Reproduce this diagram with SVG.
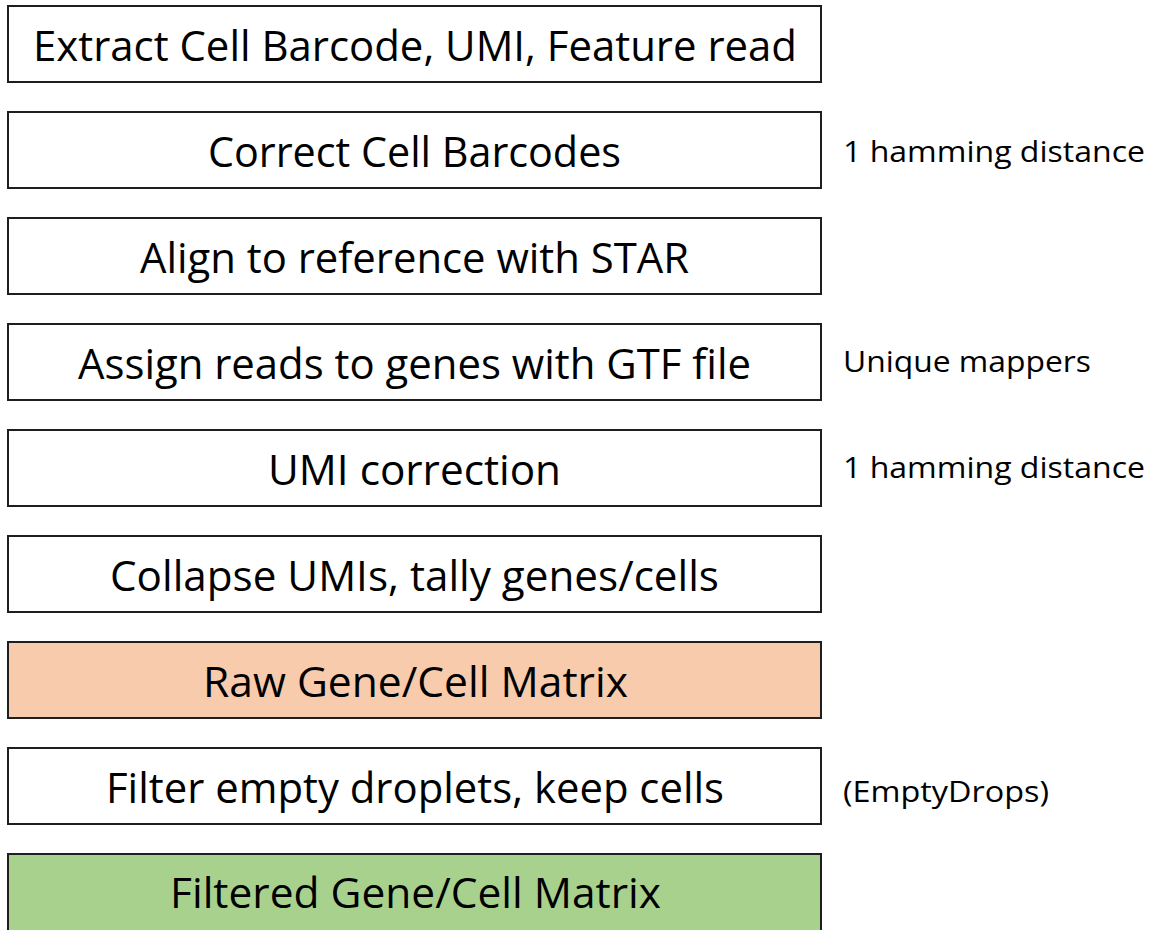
<svg xmlns="http://www.w3.org/2000/svg" width="1150" height="930" viewBox="0 0 1150 930">
  <style>
    .box { fill: #ffffff; stroke: #1f1f1f; stroke-width: 2; }
    .raw { fill: #f8cbad; }
    .filtered { fill: #a9d18e; }
    .step { font-family: "Open Sans", "Noto Sans", sans-serif; font-size: 42px; fill: #000000; }
    .note { font-family: "Open Sans", "Noto Sans", sans-serif; font-size: 29px; fill: #000000; }
  </style>
  <rect width="1150" height="930" fill="#ffffff"/>

  <!-- pipeline steps -->
  <g id="extract">
    <rect class="box" x="8" y="6" width="813" height="76"/>
    <text class="step" x="33" y="61" textLength="764" lengthAdjust="spacingAndGlyphs">Extract Cell Barcode, UMI, Feature read</text>
  </g>
  <g id="correct-barcodes">
    <rect class="box" x="8" y="112" width="813" height="76"/>
    <text class="step" x="208" y="167" textLength="413" lengthAdjust="spacingAndGlyphs">Correct Cell Barcodes</text>
  </g>
  <g id="align">
    <rect class="box" x="8" y="218" width="813" height="76"/>
    <text class="step" x="140" y="273" textLength="549" lengthAdjust="spacingAndGlyphs">Align to reference with STAR</text>
  </g>
  <g id="assign">
    <rect class="box" x="8" y="324" width="813" height="76"/>
    <text class="step" x="78" y="379" textLength="673" lengthAdjust="spacingAndGlyphs">Assign reads to genes with GTF file</text>
  </g>
  <g id="umi-correction">
    <rect class="box" x="8" y="430" width="813" height="76"/>
    <text class="step" x="268" y="485" textLength="293" lengthAdjust="spacingAndGlyphs">UMI correction</text>
  </g>
  <g id="collapse">
    <rect class="box" x="8" y="536" width="813" height="76"/>
    <text class="step" x="110" y="591" textLength="609" lengthAdjust="spacingAndGlyphs">Collapse UMIs, tally genes/cells</text>
  </g>
  <g id="raw-matrix">
    <rect class="box raw" x="8" y="642" width="813" height="76"/>
    <text class="step" x="203" y="697" textLength="425" lengthAdjust="spacingAndGlyphs">Raw Gene/Cell Matrix</text>
  </g>
  <g id="filter">
    <rect class="box" x="8" y="748" width="813" height="76"/>
    <text class="step" x="106" y="803" textLength="618" lengthAdjust="spacingAndGlyphs">Filter empty droplets, keep cells</text>
  </g>
  <g id="filtered-matrix">
    <rect class="box filtered" x="8" y="854" width="813" height="82"/>
    <text class="step" x="170" y="908" textLength="491" lengthAdjust="spacingAndGlyphs">Filtered Gene/Cell Matrix</text>
  </g>

  <!-- side notes -->
  <g id="notes">
    <text class="note" x="843" y="162" textLength="302" lengthAdjust="spacingAndGlyphs">1 hamming distance</text>
    <text class="note" x="843" y="372" textLength="248" lengthAdjust="spacingAndGlyphs">Unique mappers</text>
    <text class="note" x="843" y="478" textLength="302" lengthAdjust="spacingAndGlyphs">1 hamming distance</text>
    <text class="note" x="843" y="802" textLength="206" lengthAdjust="spacingAndGlyphs">(EmptyDrops)</text>
  </g>

  <g id="connectors"></g>
</svg>
